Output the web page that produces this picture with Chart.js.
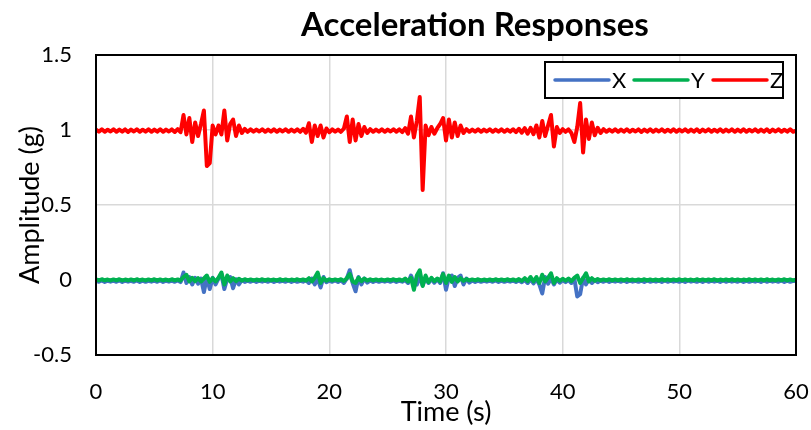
<!DOCTYPE html>
<html>
<head>
<meta charset="utf-8">
<title>Acceleration Responses</title>
<script src="https://cdn.jsdelivr.net/npm/chart.js@4"></script>
<style>
  html, body { margin: 0; padding: 0; background: #fff; }
  #wrap { width: 811px; height: 430px; }
</style>
</head>
<body>
<div id="wrap"><canvas id="accChart" width="811" height="430"></canvas></div>
<script>
// sampling step of the traces (s), one value every 0.25 s from 0 to 60
const SAMPLE_STEP = 0.25;

const seriesNames = ['X', 'Y', 'Z'];
const seriesColors = ['#4472C4', '#00B050', '#FF0000'];
const xTicks = [0, 10, 20, 30, 40, 50, 60];
const yTicks = [-0.5, 0, 0.5, 1, 1.5];

// X axis acceleration (g)
const accX = [
  -0.004, -0.012, -0.003, -0.013, -0.005, -0.011, -0.004, -0.012, -0.003, -0.013, -0.004, -0.011, -0.005, -0.012, -0.003, -0.013, -0.004, -0.012, -0.005, -0.011,
  -0.004, -0.012, -0.003, -0.013, -0.005, -0.011, -0.004, -0.012, -0.003, -0.014, 0.05, -0.02, 0.02, -0.03, 0.015, -0.025, 0.01, -0.08, 0.02, -0.06,
  0.015, -0.03, 0.01, 0.04, -0.06, 0.01, 0.02, -0.055, 0.005, -0.03, 0.0, -0.013, -0.004, -0.012, -0.003, -0.013, -0.005, -0.011, -0.004, -0.012,
  -0.003, -0.013, -0.004, -0.011, -0.005, -0.012, -0.003, -0.013, -0.004, -0.012, -0.005, -0.011, 0.0, -0.02, 0.01, -0.03, 0.01, -0.05, 0.02, -0.015,
  -0.004, -0.012, -0.003, -0.013, -0.002, -0.02, 0.01, 0.065, -0.02, -0.075, 0.02, -0.03, 0.01, -0.018, -0.003, -0.013, -0.004, -0.012, -0.005, -0.011,
  -0.004, -0.012, -0.003, -0.013, -0.005, -0.011, 0.0, -0.02, 0.03, -0.02, -0.03, 0.02, -0.035, 0.015, -0.02, 0.008, -0.018, 0.005, -0.02, 0.045,
  -0.065, 0.02, 0.03, -0.04, 0.015, 0.03, -0.03, 0.01, -0.018, -0.003, -0.013, -0.004, -0.012, -0.005, -0.011, -0.004, -0.012, -0.003, -0.013, -0.004,
  -0.012, -0.005, -0.011, -0.004, -0.013, -0.003, -0.015, 0.0, -0.02, 0.004, -0.022, 0.008, -0.03, -0.09, 0.02, -0.025, 0.01, -0.03, 0.005, -0.018,
  -0.002, -0.014, 0.0, -0.02, 0.01, -0.11, -0.095, 0.015, -0.03, 0.01, -0.02, 0.0, -0.015, -0.004, -0.012, -0.003, -0.013, -0.005, -0.011, -0.004,
  -0.012, -0.003, -0.013, -0.004, -0.011, -0.005, -0.012, -0.004, -0.013, -0.003, -0.012, -0.005, -0.011, -0.004, -0.013, -0.003, -0.012, -0.004, -0.011, -0.005,
  -0.012, -0.004, -0.013, -0.003, -0.011, -0.005, -0.012, -0.004, -0.013, -0.003, -0.012, -0.004, -0.011, -0.005, -0.013, -0.003, -0.012, -0.004, -0.011, -0.005,
  -0.012, -0.003, -0.013, -0.004, -0.012, -0.005, -0.011, -0.004, -0.013, -0.003, -0.012, -0.004, -0.011, -0.005, -0.012, -0.003, -0.013, -0.004, -0.012, -0.005,
  -0.008
];

// Y axis acceleration (g)
const accY = [
  0.004, -0.003, 0.005, -0.002, 0.003, -0.003, 0.004, -0.002, 0.005, -0.003, 0.003, -0.002, 0.004, -0.003, 0.005, -0.002, 0.003, -0.003, 0.004, -0.002,
  0.005, -0.003, 0.004, -0.002, 0.003, -0.003, 0.005, -0.002, 0.004, -0.004, 0.02, 0.035, -0.01, 0.015, -0.008, 0.012, -0.01, 0.01, 0.03, -0.012,
  0.012, -0.01, 0.015, 0.05, -0.03, 0.03, -0.01, 0.012, -0.008, 0.008, -0.004, 0.005, -0.002, 0.004, -0.003, 0.003, -0.002, 0.005, -0.003, 0.004,
  -0.002, 0.003, -0.003, 0.005, -0.002, 0.004, -0.003, 0.003, -0.002, 0.005, -0.003, 0.004, -0.004, 0.012, -0.01, 0.015, 0.05, -0.02, 0.012, -0.005,
  0.005, -0.003, 0.004, -0.002, 0.005, -0.006, 0.012, 0.04, -0.01, -0.02, 0.015, -0.008, 0.01, -0.004, 0.005, -0.003, 0.004, -0.002, 0.003, -0.003,
  0.004, -0.002, 0.005, -0.003, 0.004, -0.004, 0.01, -0.01, 0.015, -0.065, 0.03, 0.065, -0.04, 0.03, -0.015, 0.015, -0.008, 0.01, -0.01, 0.04,
  -0.02, 0.03, -0.012, 0.02, -0.01, 0.012, -0.006, 0.006, -0.003, 0.004, -0.002, 0.005, -0.003, 0.003, -0.002, 0.004, -0.003, 0.005, -0.002, 0.004,
  -0.003, 0.005, -0.002, 0.004, -0.004, 0.006, -0.006, 0.012, -0.008, 0.02, -0.01, 0.02, -0.02, 0.035, -0.01, 0.015, 0.045, -0.02, 0.012, -0.006,
  0.008, -0.004, 0.01, -0.008, 0.015, 0.03, -0.02, 0.012, 0.045, -0.01, 0.012, -0.005, 0.006, -0.003, 0.004, -0.002, 0.005, -0.003, 0.004, -0.002,
  0.004, -0.003, 0.005, -0.002, 0.003, -0.003, 0.004, -0.002, 0.005, -0.003, 0.004, -0.002, 0.003, -0.003, 0.005, -0.002, 0.004, -0.003, 0.004, -0.002,
  0.005, -0.003, 0.004, -0.002, 0.003, -0.003, 0.005, -0.002, 0.004, -0.003, 0.004, -0.002, 0.005, -0.003, 0.003, -0.002, 0.004, -0.003, 0.005, -0.002,
  0.004, -0.003, 0.003, -0.002, 0.005, -0.003, 0.004, -0.002, 0.004, -0.003, 0.005, -0.002, 0.003, -0.003, 0.004, -0.002, 0.005, -0.003, 0.004, -0.002,
  0.001
];

// Z axis acceleration (g), gravity included
const accZ = [
  1.003, 0.989, 1.004, 0.988, 1.002, 0.99, 1.005, 0.988, 1.003, 0.989, 1.004, 0.987, 1.003, 0.99, 1.005, 0.988, 1.002, 0.989, 1.004, 0.988,
  1.003, 0.989, 1.005, 0.988, 1.003, 0.99, 1.004, 0.987, 1.006, 0.985, 1.10, 0.97, 1.08, 0.92, 1.05, 0.96, 1.04, 1.13, 0.76, 0.78,
  1.03, 0.97, 1.03, 0.97, 1.13, 0.93, 1.04, 1.07, 0.96, 1.03, 0.98, 1.008, 0.988, 1.004, 0.989, 1.003, 0.99, 1.005, 0.988, 1.003,
  0.989, 1.004, 0.988, 1.003, 0.99, 1.005, 0.988, 1.003, 0.989, 1.004, 0.988, 1.008, 0.982, 1.045, 0.92, 1.03, 0.96, 1.03, 0.95, 1.01,
  0.985, 1.004, 0.989, 1.003, 0.988, 1.01, 1.09, 0.92, 1.07, 0.93, 1.04, 0.96, 1.02, 0.98, 1.006, 0.988, 1.003, 0.989, 1.004, 0.988,
  1.003, 0.99, 1.005, 0.988, 1.004, 0.986, 1.012, 0.975, 1.09, 0.95, 1.06, 1.22, 0.60, 1.03, 0.965, 1.02, 0.975, 1.012, 1.04, 1.08,
  0.93, 1.07, 0.95, 1.05, 0.96, 1.03, 0.98, 1.006, 0.988, 1.003, 0.989, 1.004, 0.988, 1.003, 0.99, 1.005, 0.988, 1.003, 0.989, 1.004,
  0.988, 1.003, 0.989, 1.005, 0.986, 1.008, 0.982, 1.012, 0.975, 1.015, 0.972, 1.03, 0.95, 1.06, 0.96, 1.03, 1.10, 0.89, 1.02, 0.98,
  1.006, 0.988, 1.004, 0.98, 0.92, 1.02, 1.18, 0.85, 1.07, 0.94, 1.05, 0.965, 1.015, 0.98, 1.006, 0.988, 1.003, 0.989, 1.004, 0.988,
  1.003, 0.989, 1.005, 0.988, 1.002, 0.99, 1.004, 0.987, 1.003, 0.989, 1.005, 0.988, 1.003, 0.99, 1.004, 0.988, 1.002, 0.989, 1.005, 0.988,
  1.003, 0.99, 1.004, 0.988, 1.003, 0.989, 1.005, 0.987, 1.003, 0.99, 1.004, 0.988, 1.002, 0.989, 1.005, 0.988, 1.003, 0.99, 1.004, 0.988,
  1.003, 0.989, 1.005, 0.988, 1.002, 0.99, 1.004, 0.988, 1.003, 0.989, 1.005, 0.987, 1.003, 0.99, 1.004, 0.988, 1.002, 0.989, 1.005, 0.988,
  0.996
];

const FONT = 'Lato, "Open Sans", sans-serif';

function toPoints(values) {
    return values.map((v, i) => ({ x: i * SAMPLE_STEP, y: v }));
}

// chart title, drawn offset to the right like the original
const titlePlugin = {
    id: 'chartTitle',
    afterDraw(chart) {
        const ctx = chart.ctx;
        ctx.save();
        ctx.font = 'bold 33px ' + FONT;
        ctx.fillStyle = '#000';
        ctx.textAlign = 'center';
        ctx.textBaseline = 'middle';
        ctx.fillText('Acceleration Responses', 475, 25);
        ctx.restore();
    }
};

// plot border plus the boxed legend inside the plot area
const frameLegendPlugin = {
    id: 'frameLegend',
    afterDraw(chart) {
        const ctx = chart.ctx;
        const a = chart.chartArea;
        ctx.save();
        ctx.strokeStyle = '#000';
        ctx.lineWidth = 2;
        ctx.strokeRect(a.left, a.top, a.right - a.left, a.bottom - a.top);

        // legend box
        const box = { x: 545, y: 62, w: 238, h: 36 };
        ctx.fillStyle = '#fff';
        ctx.fillRect(box.x, box.y, box.w, box.h);
        ctx.lineWidth = 2;
        ctx.strokeRect(box.x, box.y, box.w, box.h);

        ctx.font = '22px ' + FONT;
        ctx.textBaseline = 'middle';
        ctx.textAlign = 'left';
        const cy = box.y + box.h / 2;
        let x = box.x + 10;
        seriesNames.forEach((name, i) => {
            ctx.strokeStyle = seriesColors[i];
            ctx.lineWidth = 3.5;
            ctx.lineCap = 'round';
            ctx.beginPath();
            ctx.moveTo(x, cy);
            ctx.lineTo(x + 54, cy);
            ctx.stroke();
            ctx.fillStyle = '#000';
            ctx.fillText(name, x + 57, cy + 1);
            x += 79;
        });
        ctx.restore();
    }
};

const datasets = [accX, accY, accZ].map((vals, i) => ({
    label: seriesNames[i],
    data: toPoints(vals),
    borderColor: seriesColors[i],
    backgroundColor: seriesColors[i],
    borderWidth: 4,
    borderJoinStyle: 'round',
    pointRadius: 0,
    tension: 0,
    order: 3 - i // Z drawn on top
}));

new Chart(document.getElementById('accChart').getContext('2d'), {
    type: 'line',
    data: { datasets: datasets },
    options: {
        responsive: false,
        animation: false,
        layout: { padding: { top: 55, right: 15, left: 0, bottom: 0 } },
        plugins: {
            legend: { display: false },
            title: { display: false },
            tooltip: { enabled: false }
        },
        scales: {
            x: {
                type: 'linear',
                min: 0,
                max: 60,
                afterBuildTicks: (scale) => { scale.ticks = xTicks.map(v => ({ value: v })); },
                afterFit: (scale) => {
                    scale.height = 75;
                    scale.paddingLeft = 0;
                    scale.paddingRight = 0;
                },
                grid: { color: '#d9d9d9', lineWidth: 1.5, drawTicks: false },
                border: { display: false },
                ticks: { color: '#000', font: { family: FONT, size: 22 }, padding: 24, maxRotation: 0 },
                title: { display: true, text: 'Time (s)', color: '#000', font: { family: FONT, size: 27 }, padding: { top: 0, bottom: 2 } }
            },
            y: {
                min: -0.5,
                max: 1.5,
                afterBuildTicks: (scale) => { scale.ticks = yTicks.map(v => ({ value: v })); },
                afterFit: (scale) => { scale.width = 96; },
                grid: { color: '#d9d9d9', lineWidth: 1.5, drawTicks: false },
                border: { display: false },
                ticks: {
                    color: '#000',
                    font: { family: FONT, size: 22 },
                    padding: 24,
                    callback: (v) => String(v)
                },
                title: { display: true, text: 'Amplitude (g)', color: '#000', font: { family: FONT, size: 27 }, padding: { top: 14, bottom: 0 } }
            }
        }
    },
    plugins: [titlePlugin, frameLegendPlugin]
});
</script>
</body>
</html>
